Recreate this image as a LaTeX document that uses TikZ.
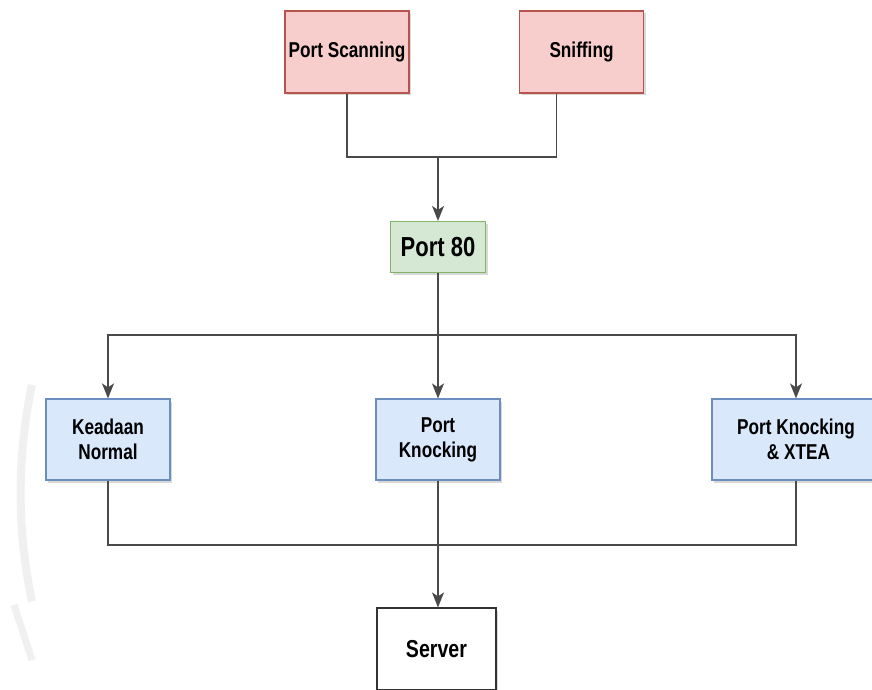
\documentclass[tikz,border=0pt]{standalone}
\usepackage{fontspec}
\setmainfont{Liberation Sans}
\newfontfamily\boxfont[FakeStretch=0.8]{Liberation Sans}
\usetikzlibrary{arrows.meta,shadows}
\definecolor{redfill}{HTML}{F8CECC}
\definecolor{redline}{HTML}{B85450}
\definecolor{greenfill}{HTML}{D5E8D4}
\definecolor{greenline}{HTML}{82B366}
\definecolor{bluefill}{HTML}{DAE8FC}
\definecolor{blueline}{HTML}{6C8EBF}
\definecolor{wire}{HTML}{4A4A4A}
\tikzset{
  box/.style={rectangle, draw, line width=1.2pt, align=center,
    font=\boxfont\fontsize{21.5}{25}\selectfont\bfseries, inner sep=2pt,
    drop shadow={shadow xshift=2pt, shadow yshift=-2.5pt, opacity=0.25, fill=black!60}},
  attack/.style={box, fill=redfill, draw=redline, minimum width=124pt, minimum height=82pt},
  portbox/.style={box, fill=greenfill, draw=greenline, minimum width=95pt, minimum height=51pt,
    font=\boxfont\fontsize{27.5}{30}\selectfont\bfseries},
  scheme/.style={box, fill=bluefill, draw=blueline, minimum width=124pt, minimum height=81pt},
  target/.style={box, fill=white, draw=black!80, minimum width=119pt, minimum height=82pt,
    font=\boxfont\fontsize{24.5}{28}\selectfont\bfseries},
  wireline/.style={draw=wire, line width=1.6pt},
  arrowline/.style={wireline, -{Stealth[length=15pt,width=12pt,inset=4pt]}}
}
\begin{document}
\begin{tikzpicture}[x=1pt,y=-1pt]
  \useasboundingbox (0,0) rectangle (872,690);
  \fill[white] (0,0) rectangle (872,690);

  % faint watermark arcs at the left margin
  \draw[black!6, line width=8pt] (32,385) arc[start angle=192, end angle=168, radius=520];
  \draw[black!6, line width=7pt] (14,605) -- (32,660);

  % attack sources
  \node[attack] (ps) at (347,52) {Port Scanning};
  \node[attack] (sn) at (581.5,52) {Sniffing};

  % entry port
  \node[portbox] (p80) at (438,247) {Port 80};

  % protection schemes
  \node[scheme] (kn) at (108,439.5) {Keadaan\\Normal};
  \node[scheme] (pk) at (438,439.5) {Port\\Knocking};
  \node[scheme, minimum width=168pt] (px) at (796,439.5) {Port Knocking\\\ \& XTEA};

  % server
  \node[target] (srv) at (436.5,649) {Server};

  % junction points of the buses
  \coordinate (topbus) at (438,157);
  \coordinate (midbus) at (438,335);
  \coordinate (lowbus) at (438,545);

  % sources to Port 80
  \draw[wireline] (ps.south) |- (topbus);
  \draw[wireline] ([xshift=-25pt]sn.south) |- (topbus);
  \draw[arrowline] (topbus) -- (p80.north);

  % Port 80 to the schemes
  \draw[wireline] (p80.south) -- (midbus);
  \draw[arrowline] (midbus) -| (kn.north);
  \draw[arrowline] (midbus) -- (pk.north);
  \draw[arrowline] (midbus) -| (px.north);

  % schemes to the server
  \draw[wireline] (kn.south) |- (lowbus);
  \draw[wireline] (px.south) |- (lowbus);
  \draw[wireline] (pk.south) -- (lowbus);
  \draw[arrowline] (lowbus) -- (srv.north -| lowbus);
\end{tikzpicture}
\end{document}
